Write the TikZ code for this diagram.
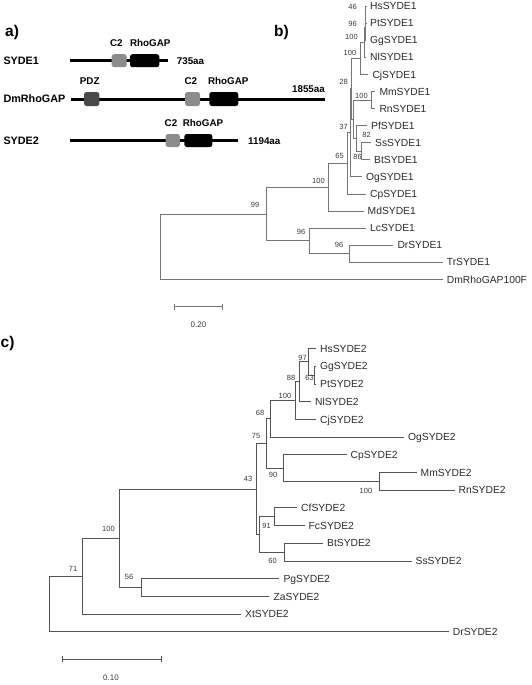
\documentclass[tikz,border=0pt]{standalone}
\usepackage{fontspec}
\setmainfont{Liberation Sans}
\definecolor{brb}{HTML}{767676}
\definecolor{brc}{HTML}{555555}
\definecolor{leafc}{HTML}{2B2B2B}
\definecolor{bsc}{HTML}{3A3A3A}
\definecolor{ctwo}{HTML}{8C8C8C}
\definecolor{pdz}{HTML}{4A4A4A}
\begin{document}
\begin{tikzpicture}[x=1pt,y=-1pt,
  panel/.style={font=\bfseries\fontsize{15.5}{17}\selectfont, inner sep=0, anchor=base west},
  prot/.style={font=\bfseries\fontsize{10.8}{12}\selectfont, anchor=west, inner sep=0, text height=7.7pt, text depth=0pt},
  dom/.style={font=\bfseries\fontsize{9.8}{11}\selectfont, inner sep=0, text height=7pt, text depth=0pt},
  bar/.style={line width=3pt},
  dbox/.style={rounded corners=2.5pt, minimum height=13pt, inner sep=0, draw=none},
  leaf/.style={font=\fontsize{10.3}{12}\selectfont, anchor=west, inner sep=0, text=leafc, text height=7.4pt, text depth=0pt},
  bs/.style={font=\fontsize{7.5}{9}\selectfont, inner sep=0, text=bsc, text height=5.4pt, text depth=0pt},
  scl/.style={font=\fontsize{8}{9}\selectfont, inner sep=0, text=bsc, text height=5.7pt, text depth=0pt},
  bb/.style={draw=brb, line width=0.8pt},
  bc/.style={draw=brc, line width=0.8pt}]
\useasboundingbox (0,0) rectangle (531,685);

% ---------------- panel labels
\node[panel] (pa) at (5,36.7) {a)};
\node[panel] (pb) at (274,36.7) {b)};
\node[panel] (pc) at (0.5,347.5) {c)};

% ---------------- panel a
\node[prot] (s1) at (3.3,60.7) {SYDE1};
\coordinate (s1a) at (70,60.7);
\coordinate (s1b) at (168.3,60.7);
\draw[bar] (s1a) -- (s1b);
\node[dbox, fill=ctwo, minimum width=15pt] (s1c2) at (119.2,60.7) {};
\node[dbox, fill=black, minimum width=29.3pt] (s1rg) at (144.7,60.7) {};
\node[dom] (s1c2l) at (116.3,42.7) {C2};
\node[dom] (s1rgl) at (150.3,42.7) {RhoGAP};
\node[dom, anchor=west] (s1len) at (176.7,60.7) {735aa};

\node[prot] (dm) at (3.3,99) {DmRhoGAP};
\coordinate (dma) at (70.7,99);
\coordinate (dmb) at (325,99);
\draw[bar] (dma) -- (dmb);
\node[dbox, fill=pdz, minimum width=15.3pt, minimum height=14pt] (dmpdz) at (91.7,99) {};
\node[dbox, fill=ctwo, minimum width=15pt, minimum height=14pt] (dmc2) at (192.5,99) {};
\node[dbox, fill=black, minimum width=29pt, minimum height=14pt] (dmrg) at (223.8,99) {};
\node[dom] (dmpdzl) at (89.7,81) {PDZ};
\node[dom] (dmc2l) at (190.8,81) {C2};
\node[dom] (dmrgl) at (228.3,81) {RhoGAP};
\node[dom, anchor=east] (dmlen) at (325,89.3) {1855aa};

\node[prot] (s2) at (3.3,140.5) {SYDE2};
\coordinate (s2a) at (70,140.5);
\coordinate (s2b) at (238,140.5);
\draw[bar] (s2a) -- (s2b);
\node[dbox, fill=ctwo, minimum width=14.3pt] (s2c2) at (172.8,140.5) {};
\node[dbox, fill=black, minimum width=28pt] (s2rg) at (198.3,140.5) {};
\node[dom] (s2c2l) at (171,123.3) {C2};
\node[dom] (s2rgl) at (203,123.3) {RhoGAP};
\node[dom, anchor=west] (s2len) at (248,140.5) {1194aa};

% ---------------- panel b : leaves
\node[leaf] (bHs) at (370,6.0) {HsSYDE1};
\node[leaf] (bPt) at (370,23.1) {PtSYDE1};
\node[leaf] (bGg) at (370,40.2) {GgSYDE1};
\node[leaf] (bNl) at (370,57.2) {NlSYDE1};
\node[leaf] (bCj) at (372.3,74.3) {CjSYDE1};
\node[leaf] (bMm) at (379.3,91.4) {MmSYDE1};
\node[leaf] (bRn) at (379.3,108.5) {RnSYDE1};
\node[leaf] (bPf) at (371,125.6) {PfSYDE1};
\node[leaf] (bSs) at (375,142.6) {SsSYDE1};
\node[leaf] (bBt) at (374,159.7) {BtSYDE1};
\node[leaf] (bOg) at (366,176.8) {OgSYDE1};
\node[leaf] (bCp) at (370,193.9) {CpSYDE1};
\node[leaf] (bMd) at (367.5,210.9) {MdSYDE1};
\node[leaf] (bLc) at (370,228.0) {LcSYDE1};
\node[leaf] (bDr) at (397.3,245.1) {DrSYDE1};
\node[leaf] (bTr) at (446.7,262.2) {TrSYDE1};
\node[leaf] (bDm) at (446.7,279.3) {DmRhoGAP100F};

% internal nodes b
\coordinate (b46) at (365.8,14.6);
\coordinate (b96) at (365.2,27.4);
\coordinate (b100a) at (364.5,42.3);
\coordinate (b100b) at (360.7,58.3);
\coordinate (bMR) at (371.7,99.9);
\coordinate (bSB) at (361,151.2);
\coordinate (bP) at (356.5,138.4);
\coordinate (bX) at (353.3,119.2);
\coordinate (b28) at (351.8,88.7);
\coordinate (b37) at (350.8,132.8);
\coordinate (b65) at (347.3,163.3);
\coordinate (b100c) at (328.3,187.1);
\coordinate (bDT) at (349,253.6);
\coordinate (bLcn) at (309.3,240.8);
\coordinate (b99) at (266.7,214.0);
\coordinate (broot) at (160,246.7);

\draw[bb] (b46) |- ([xshift=-4pt]bHs.west);
\draw[bb] (b46) |- ([xshift=-4pt]bPt.west);
\draw[bb] (b96) |- (b46);
\draw[bb] (b96) |- ([xshift=-4pt]bGg.west);
\draw[bb] (b100a) |- (b96);
\draw[bb] (b100a) |- ([xshift=-4pt]bNl.west);
\draw[bb] (b100b) |- (b100a);
\draw[bb] (b100b) |- ([xshift=-4pt]bCj.west);
\draw[bb] (bMR) |- ([xshift=-4pt]bMm.west);
\draw[bb] (bMR) |- ([xshift=-4pt]bRn.west);
\draw[bb] (bSB) |- ([xshift=-4pt]bSs.west);
\draw[bb] (bSB) |- ([xshift=-4pt]bBt.west);
\draw[bb] (bP) |- ([xshift=-4pt]bPf.west);
\draw[bb] (bP) |- (bSB);
\draw[bb] (bX) |- (bMR);
\draw[bb] (bX) |- (bP);
\draw[bb] (b28) |- (b100b);
\draw[bb] (b28) |- (bX);
\draw[bb] (b37) |- (b28);
\draw[bb] (b37) |- ([xshift=-4pt]bOg.west);
\draw[bb] (b65) |- (b37);
\draw[bb] (b65) |- ([xshift=-4pt]bCp.west);
\draw[bb] (b100c) |- (b65);
\draw[bb] (b100c) |- ([xshift=-4pt]bMd.west);
\draw[bb] (bDT) |- ([xshift=-4pt]bDr.west);
\draw[bb] (bDT) |- ([xshift=-4pt]bTr.west);
\draw[bb] (bLcn) |- ([xshift=-4pt]bLc.west);
\draw[bb] (bLcn) |- (bDT);
\draw[bb] (b99) |- (b100c);
\draw[bb] (b99) |- (bLcn);
\draw[bb] (broot) |- (b99);
\draw[bb] (broot) |- ([xshift=-4pt]bDm.west);

% bootstrap b
\node[bs] (l46) at (352.5,6.5) {46};
\node[bs] (l96a) at (352.5,23.5) {96};
\node[bs] (l100a) at (351.5,37) {100};
\node[bs] (l100b) at (350,53) {100};
\node[bs] (l28) at (343.5,82) {28};
\node[bs] (l100mr) at (361.5,95.5) {100};
\node[bs] (l37) at (343.5,127) {37};
\node[bs] (l82) at (366.5,135) {82};
\node[bs] (l86) at (357.5,157) {86};
\node[bs] (l65) at (339.5,156) {65};
\node[bs] (l100c) at (318.5,181) {100};
\node[bs] (l99) at (255,205) {99};
\node[bs] (l96b) at (301,232) {96};
\node[bs] (l96c) at (339,245) {96};

% scale b
\coordinate (sb1) at (174.3,306.7);
\coordinate (sb2) at (222.7,306.7);
\draw[bb] (sb1) -- (sb2);
\draw[bb] ([yshift=-3pt]sb1) -- ([yshift=3pt]sb1);
\draw[bb] ([yshift=-3pt]sb2) -- ([yshift=3pt]sb2);
\node[scl] (sbl) at (198.5,325) {0.20};

% ---------------- panel c : leaves
\node[leaf] (cHs) at (320,348.5) {HsSYDE2};
\node[leaf] (cGg) at (320,366.2) {GgSYDE2};
\node[leaf] (cPt) at (320,383.9) {PtSYDE2};
\node[leaf] (cNl) at (315,401.6) {NlSYDE2};
\node[leaf] (cCj) at (320,419.3) {CjSYDE2};
\node[leaf] (cOg) at (408,437.0) {OgSYDE2};
\node[leaf] (cCp) at (350.5,454.7) {CpSYDE2};
\node[leaf] (cMm) at (420.5,472.4) {MmSYDE2};
\node[leaf] (cRn) at (458.5,490.1) {RnSYDE2};
\node[leaf] (cCf) at (301,507.8) {CfSYDE2};
\node[leaf] (cFc) at (308.5,525.5) {FcSYDE2};
\node[leaf] (cBt) at (327,543.2) {BtSYDE2};
\node[leaf] (cSs) at (415.5,560.9) {SsSYDE2};
\node[leaf] (cPg) at (283.3,578.6) {PgSYDE2};
\node[leaf] (cZa) at (273.3,596.3) {ZaSYDE2};
\node[leaf] (cXt) at (245,614.0) {XtSYDE2};
\node[leaf] (cDr) at (452.7,631.7) {DrSYDE2};

% internal nodes c
\coordinate (c63) at (314,375.05);
\coordinate (c97) at (308,361.8);
\coordinate (c88) at (299,381.7);
\coordinate (c100a) at (295,400.5);
\coordinate (c68) at (270.5,418.75);
\coordinate (cMR) at (379.3,481.25);
\coordinate (c90) at (283.3,468.0);
\coordinate (c75) at (266.5,443.4);
\coordinate (c91) at (274,516.65);
\coordinate (c60) at (284,552.05);
\coordinate (cCS) at (259.5,534.35);
\coordinate (c43) at (256,488.9);
\coordinate (c56) at (141.7,587.45);
\coordinate (c100b) at (119.5,538.2);
\coordinate (c71) at (82.7,576.1);
\coordinate (croot) at (49,603.9);

\draw[bc] (c63) |- ([xshift=-4pt]cGg.west);
\draw[bc] (c63) |- ([xshift=-4pt]cPt.west);
\draw[bc] (c97) |- ([xshift=-4pt]cHs.west);
\draw[bc] (c97) |- (c63);
\draw[bc] (c88) |- (c97);
\draw[bc] (c88) |- ([xshift=-4pt]cNl.west);
\draw[bc] (c100a) |- (c88);
\draw[bc] (c100a) |- ([xshift=-4pt]cCj.west);
\draw[bc] (c68) |- (c100a);
\draw[bc] (c68) |- ([xshift=-4pt]cOg.west);
\draw[bc] (cMR) |- ([xshift=-4pt]cMm.west);
\draw[bc] (cMR) |- ([xshift=-4pt]cRn.west);
\draw[bc] (c90) |- ([xshift=-4pt]cCp.west);
\draw[bc] (c90) |- (cMR);
\draw[bc] (c75) |- (c68);
\draw[bc] (c75) |- (c90);
\draw[bc] (c91) |- ([xshift=-4pt]cCf.west);
\draw[bc] (c91) |- ([xshift=-4pt]cFc.west);
\draw[bc] (c60) |- ([xshift=-4pt]cBt.west);
\draw[bc] (c60) |- ([xshift=-4pt]cSs.west);
\draw[bc] (cCS) |- (c91);
\draw[bc] (cCS) |- (c60);
\draw[bc] (c43) |- (c75);
\draw[bc] (c43) |- (cCS);
\draw[bc] (c56) |- ([xshift=-4pt]cPg.west);
\draw[bc] (c56) |- ([xshift=-4pt]cZa.west);
\draw[bc] (c100b) |- (c43);
\draw[bc] (c100b) |- (c56);
\draw[bc] (c71) |- (c100b);
\draw[bc] (c71) |- ([xshift=-4pt]cXt.west);
\draw[bc] (croot) |- (c71);
\draw[bc] (croot) |- ([xshift=-4pt]cDr.west);

% bootstrap c
\node[bs] (m97) at (302.5,358) {97};
\node[bs] (m63) at (309.5,378) {63};
\node[bs] (m88) at (291,378) {88};
\node[bs] (m100a) at (285,396) {100};
\node[bs] (m68) at (260,413) {68};
\node[bs] (m75) at (256,436) {75};
\node[bs] (m43) at (248,479) {43};
\node[bs] (m90) at (273,475) {90};
\node[bs] (m100mr) at (366,491) {100};
\node[bs] (m91) at (266.5,525.5) {91};
\node[bs] (m60) at (272.5,561) {60};
\node[bs] (m100b) at (108.5,529) {100};
\node[bs] (m56) at (129,577) {56};
\node[bs] (m71) at (73,569) {71};

% scale c
\coordinate (sc1) at (62.7,659.3);
\coordinate (sc2) at (161,659.3);
\draw[bc] (sc1) -- (sc2);
\draw[bc] ([yshift=-3pt]sc1) -- ([yshift=3pt]sc1);
\draw[bc] ([yshift=-3pt]sc2) -- ([yshift=3pt]sc2);
\node[scl] (scl2) at (111,678) {0.10};
\end{tikzpicture}
\end{document}
